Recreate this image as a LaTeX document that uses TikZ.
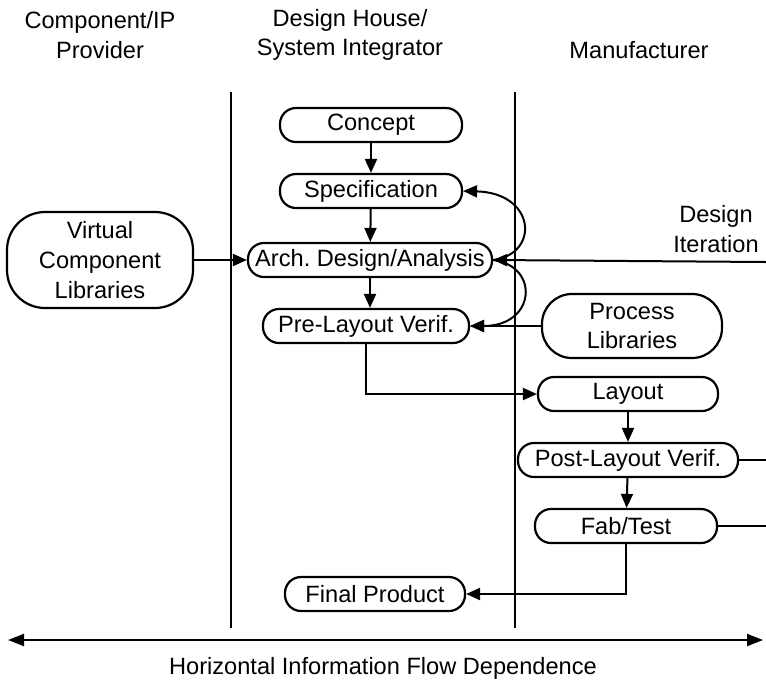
\documentclass[tikz,border=0pt]{standalone}
\usepackage{fontspec}
\setmainfont{Liberation Sans}
\usetikzlibrary{arrows.meta}
\frenchspacing

\tikzset{
  flowbox/.style={draw, line width=1.1pt, rounded corners=8pt, minimum height=17pt, inner sep=0pt, align=center},
  libbox/.style={draw, line width=1.1pt, align=center, inner sep=0pt},
  flowarrow/.style={line width=1pt, -{Triangle[length=7pt,width=6pt]}},
  flowline/.style={line width=1pt},
  divider/.style={line width=0.8pt},
  heading/.style={align=center}
}

\begin{document}
\begin{tikzpicture}[x=0.5pt, y=-0.5pt, font=\fontsize{11.8}{14.8}\selectfont]
\useasboundingbox (0,0) rectangle (766,682);

% Column headings
\node[heading] (hdcomp) at (100,35) {Component/IP\\Provider};
\node[heading] (hdhouse) at (350,35) {Design House/\\System Integrator};
\node[heading] (hdmanu) at (639,50) {Manufacturer};

% Column dividers
\draw[divider] (231,92) -- (231,628);
\draw[divider] (515,92) -- (515,628);

% Design house flow
\node[flowbox, minimum width=91pt] (concept) at (371,125) {Concept};
\node[flowbox, minimum width=91pt] (spec) at (371,191) {Specification};
\node[flowbox, minimum width=122pt] (arch) at (370,260) {Arch. Design/Analysis};
\node[flowbox, minimum width=103pt] (prelay) at (366,326) {Pre-Layout Verif.};
\node[flowbox, minimum width=90pt] (final) at (375,594) {Final Product};

% Libraries
\node[libbox, minimum width=93pt, minimum height=48pt, rounded corners=19pt] (vclib) at (100,260) {Virtual\\Component\\Libraries};
\node[libbox, minimum width=90pt, minimum height=32pt, rounded corners=15pt] (proclib) at (632,326) {Process\\Libraries};

% Manufacturer flow
\node[flowbox, minimum width=90pt] (layout) at (628,394) {Layout};
\node[flowbox, minimum width=110pt] (postlay) at (628,460) {Post-Layout Verif.};
\node[flowbox, minimum width=91pt] (fab) at (626,526) {Fab/Test};

% Design iteration
\node[heading] (iterlabel) at (716,229) {Design\\Iteration};
\coordinate (iterend) at (766,262);
\coordinate (postend) at (766,460);
\coordinate (fabend) at (766,526);

% Arrows down the flow
\draw[flowarrow] (concept) -- (spec);
\draw[flowarrow] (spec) -- (arch);
\draw[flowarrow] (arch.south) -- (arch.south |- prelay.north);
\draw[flowarrow] (vclib) -- (arch);
\draw[flowarrow] (proclib.west) -- (prelay.east);
\draw[flowarrow] (prelay.south) |- (layout.west);
\draw[flowarrow] (layout) -- (postlay);
\draw[flowarrow] (postlay) -- (fab);
\draw[flowarrow] (fab.south) |- (final.east);

% Feedback
\draw[flowarrow] (iterend) -- (arch.east);
\draw[flowline] (postlay.east) -- (postend);
\draw[flowline] (fab.east) -- (fabend);
\draw[flowarrow] (arch.east) .. controls (540,254) and (536,193) .. (spec.east);
\draw[flowarrow] (arch.east) .. controls (540,266) and (536,326) .. (prelay.east);

% Horizontal dependence
\coordinate (flowleft) at (8,640);
\coordinate (flowright) at (763,640);
\draw[line width=1pt, {Triangle[length=8pt,width=6pt]}-{Triangle[length=8pt,width=6pt]}] (flowleft) -- (flowright);
\node[heading] (flowlabel) at (383,668) {Horizontal Information Flow Dependence};
\end{tikzpicture}
\end{document}
